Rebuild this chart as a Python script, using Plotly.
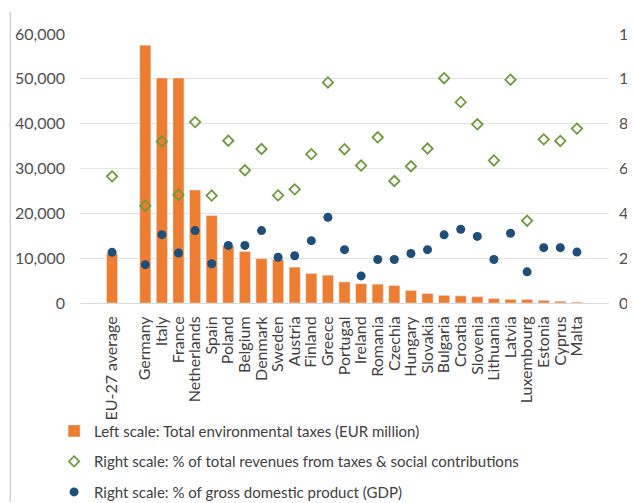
import plotly.graph_objects as go

categories = ["EU-27 average", " ", "Germany", "Italy", "France", "Netherlands", "Spain", "Poland",
              "Belgium", "Denmark", "Sweden", "Austria", "Finland", "Greece", "Portugal", "Ireland",
              "Romania", "Czechia", "Hungary", "Slovakia", "Bulgaria", "Croatia", "Slovenia",
              "Lithuania", "Latvia", "Luxembourg", "Estonia", "Cyprus", "Malta"]

env_taxes = [11000, None, 57500, 50200, 50200, 25200, 19500, 12800, 11500, 9900, 9700, 8000, 6600,
             6200, 4700, 4300, 4200, 3900, 2800, 2100, 1700, 1600, 1400, 1000, 800, 800, 600, 400, 200]

pct_revenues = [5.65, None, 4.34, 7.21, 4.83, 8.07, 4.79, 7.24, 5.92, 6.87, 4.80, 5.07, 6.64,
                9.84, 6.86, 6.13, 7.39, 5.44, 6.10, 6.89, 10.03, 8.96, 7.97, 6.36, 9.96, 3.67,
                7.30, 7.23, 7.78]

pct_gdp = [2.26, None, 1.71, 3.05, 2.23, 3.23, 1.75, 2.57, 2.57, 3.23, 2.04, 2.11, 2.78,
           3.82, 2.38, 1.21, 1.94, 1.94, 2.21, 2.38, 3.04, 3.29, 2.97, 1.94, 3.11, 1.39,
           2.47, 2.47, 2.27]

FONT = "Lato"
fig = go.Figure()
fig.add_trace(go.Bar(x=categories, y=env_taxes, marker_color="#ED7D31",
                     name="Left scale: Total environmental taxes (EUR million)",
                     legendgroup="a"))
fig.add_trace(go.Scatter(x=categories, y=pct_revenues, mode="markers", yaxis="y2",
                         marker=dict(symbol="diamond-open", size=8, color="#6E9A3C",
                                     line=dict(width=1.8, color="#6E9A3C")),
                         name="Right scale: % of total revenues from taxes & social contributions",
                         legendgroup="b"))
fig.add_trace(go.Scatter(x=categories, y=pct_gdp, mode="markers", yaxis="y2",
                         marker=dict(symbol="circle", size=9, color="#1F4E79"),
                         name="Right scale: % of gross domestic product (GDP)",
                         legendgroup="c"))

fig.update_layout(
    width=627, height=495,
    margin=dict(l=72, r=26, t=26, b=200, autoexpand=False),
    paper_bgcolor="white", plot_bgcolor="white",
    font=dict(family=FONT, size=15, color="#404040"),
    bargap=0.33,
    showlegend=True,
    legend=dict(x=-0.049, xanchor="left", y=-0.415, yanchor="top", orientation="v",
                tracegroupgap=8, font=dict(size=15, color="#404040"),
                itemwidth=30, bgcolor="rgba(0,0,0,0)"),
    xaxis=dict(type="category", tickangle=-90, showgrid=False, showline=True,
               linecolor="#D9D9D9", linewidth=1, ticks="", ticklabelstandoff=6,
               tickmode="array", tickvals=categories, ticktext=categories,
               automargin=False, tickfont=dict(size=16, color="#404040")),
    yaxis=dict(range=[0, 60000], dtick=10000, tickformat=",", showgrid=True,
               gridcolor="#E4E4E4", zeroline=False, showline=False, ticks="",
               ticklabelstandoff=14, automargin=False, tickfont=dict(size=16, color="#505050")),
    yaxis2=dict(range=[0, 12], dtick=2, overlaying="y", side="right", showgrid=False,
                zeroline=False, showline=False, ticks="", ticklabelstandoff=9,
                automargin=False, tickfont=dict(size=16, color="#505050")),
)

fig.add_shape(type="line", xref="paper", yref="paper", x0=-0.132, x1=-0.132, y0=-0.74, y1=1.082,
              line=dict(color="#BEBEBE", width=1))

fig.write_html("out.html")
